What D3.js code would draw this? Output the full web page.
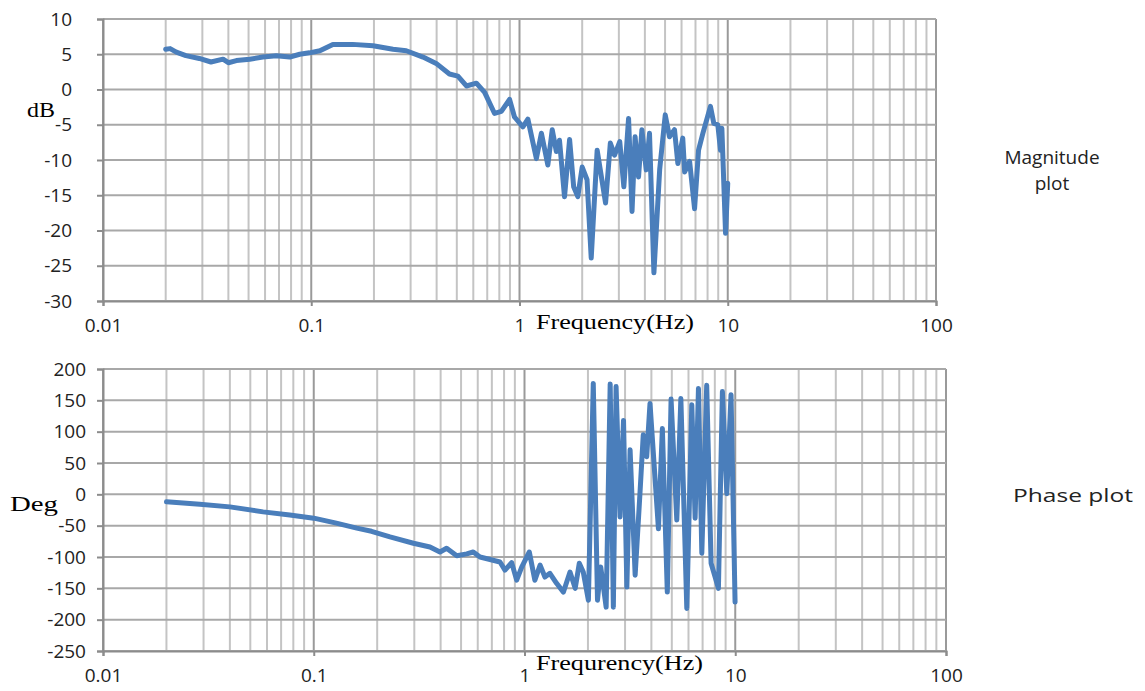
<!DOCTYPE html>
<html>
<head>
<meta charset="utf-8">
<script src="https://d3js.org/d3.v7.min.js"></script>
<style>
  body { margin: 0; background: #fff; }
</style>
</head>
<body>
<svg id="chart" width="1145" height="691"></svg>
<script>
// magnitude plot (Hz, dB)
var magFreq = [0.020, 0.021, 0.0225, 0.025, 0.029, 0.033, 0.0377, 0.040, 0.0437, 0.0506,
  0.0586, 0.068, 0.0788, 0.088, 0.098, 0.110, 0.127, 0.158, 0.198, 0.247,
  0.286, 0.344, 0.398, 0.461, 0.506, 0.556, 0.621, 0.680, 0.759, 0.818,
  0.896, 0.946, 1.038, 1.097, 1.205, 1.274, 1.368, 1.436, 1.503, 1.556,
  1.645, 1.74, 1.82, 1.905, 2.00, 2.11, 2.21, 2.36, 2.59, 2.73,
  2.86, 3.03, 3.17, 3.34, 3.47, 3.59, 3.73, 3.87, 4.06, 4.21,
  4.42, 4.71, 5.01, 5.25, 5.55, 5.76, 6.08, 6.21, 6.56, 6.93,
  7.24, 7.60, 8.26, 8.57, 8.96, 9.23, 9.37, 9.76, 10.0];
var magDb = [5.7, 5.8, 5.3, 4.8, 4.4, 3.9, 4.3, 3.8, 4.1, 4.3,
  4.6, 4.8, 4.6, 5.0, 5.2, 5.5, 6.4, 6.4, 6.2, 5.7,
  5.5, 4.6, 3.7, 2.2, 1.9, 0.5, 0.9, -0.4, -3.4, -3.1,
  -1.4, -3.9, -5.3, -4.2, -9.8, -6.2, -10.7, -5.7, -8.8, -7.2,
  -15.2, -7.1, -13.8, -15.2, -11.0, -12.8, -23.9, -8.6, -16.1, -7.6,
  -9.3, -7.4, -13.8, -4.1, -17.3, -6.7, -12.4, -5.7, -11.4, -6.2,
  -26.0, -11.4, -3.6, -6.7, -5.7, -10.5, -6.9, -11.7, -10.2, -16.9,
  -8.6, -6.2, -2.4, -4.8, -5.0, -8.6, -5.5, -20.4, -13.3];

// phase plot (Hz, degrees)
var phaseFreq = [0.020, 0.0288, 0.040, 0.0575, 0.077, 0.100, 0.128, 0.160, 0.188, 0.230,
  0.297, 0.356, 0.397, 0.427, 0.477, 0.532, 0.571, 0.615, 0.686, 0.765,
  0.808, 0.869, 0.918, 0.970, 1.054, 1.12, 1.186, 1.25, 1.32, 1.42,
  1.53, 1.644, 1.74, 1.82, 1.90, 2.01, 2.12, 2.22, 2.30, 2.44,
  2.55, 2.64, 2.72, 2.84, 2.95, 3.06, 3.17, 3.35, 3.53, 3.66,
  3.80, 3.94, 4.32, 4.51, 4.76, 4.96, 5.28, 5.52, 5.89, 6.22,
  6.45, 6.69, 6.94, 7.32, 7.68, 8.32, 8.69, 9.12, 9.55, 9.98];
var phaseDeg = [-12, -16, -20, -28, -33, -38, -46, -54, -59, -68,
  -78, -84, -92, -86, -98, -95, -92, -100, -104, -108,
  -121, -109, -137, -116, -92, -137, -113, -132, -126, -142,
  -156, -124, -150, -110, -124, -169, 177, -169, -116, -180,
  176, -180, 172, -36, 118, -148, 71, -129, 1, 95,
  60, 145, -55, 105, -156, 152, -41, 153, -182, 143,
  -38, 169, -94, 174, -110, -150, 164, 1, 159, -172];

var xTicks = [0.01, 0.1, 1, 10, 100];
var xTickLabels = ["0.01", "0.1", "1", "10", "100"];
var magTicks = [10, 5, 0, -5, -10, -15, -20, -25, -30];
var phaseTicks = [200, 150, 100, 50, 0, -50, -100, -150, -200, -250];

var svg = d3.select("#chart");
svg.append("rect").attr("width", 1145).attr("height", 691).attr("fill", "#fff");

var lineColor = "#4a7ebb";

// every 1..9 x decade for the log grid
var minorF = [];
for (var k = -2; k <= 1; k++) {
  for (var m = 1; m <= 9; m++) minorF.push(m * Math.pow(10, k));
}
minorF.push(100);

function panel(opt) {
  var x = d3.scaleLog().domain([0.01, 100]).range([opt.left, opt.right]);
  var y = d3.scaleLinear().domain(opt.domain).range([opt.bottom, opt.top]);
  var g = svg.append("g");

  // vertical grid
  g.selectAll(".vg").data(minorF).enter().append("line")
    .attr("x1", d => x(d)).attr("x2", d => x(d))
    .attr("y1", opt.top).attr("y2", opt.bottom)
    .attr("stroke", d => xTicks.indexOf(d) >= 0 ? "#9a9a9a" : "#c4c4c4")
    .attr("stroke-width", 2);

  // horizontal grid
  g.selectAll(".hg").data(opt.ticks).enter().append("line")
    .attr("x1", opt.left).attr("x2", opt.right)
    .attr("y1", d => y(d)).attr("y2", d => y(d))
    .attr("stroke", "#a8a8a8").attr("stroke-width", 2);

  // axes
  var xAxis = d3.axisBottom(x).tickValues(xTicks)
    .tickFormat((d, i) => xTickLabels[i]).tickSize(5).tickPadding(13);
  var xa = g.append("g").attr("transform", "translate(0," + opt.bottom + ")").call(xAxis);
  var yAxis = d3.axisLeft(y).tickValues(opt.ticks).tickSize(6).tickPadding(opt.ypad)
    .tickFormat(d => String(d));
  var ya = g.append("g").attr("transform", "translate(" + opt.left + ",0)").call(yAxis);
  [xa, ya].forEach(function (a) {
    a.select(".domain").attr("stroke", "#8c8c8c").attr("stroke-width", 2);
    a.selectAll(".tick line").attr("stroke", "#8c8c8c").attr("stroke-width", 2);
    a.selectAll("text").attr("fill", "#222").style("font-family", "'Open Sans', sans-serif")
      .style("font-size", "19px");
  });

  // data line
  var pts = opt.freq.map((f, i) => [f, opt.vals[i]]);
  g.append("path").datum(pts)
    .attr("fill", "none").attr("stroke", lineColor).attr("stroke-width", 5)
    .attr("stroke-linejoin", "round").attr("stroke-linecap", "round")
    .attr("d", d3.line().x(d => x(d[0])).y(d => y(d[1])));

  // labels
  g.append("text").attr("x", opt.yLabX).attr("y", opt.yLabY)
    .attr("textLength", opt.yLabW).attr("lengthAdjust", "spacingAndGlyphs")
    .style("font-family", "'Liberation Serif', serif").style("font-size", "20px")
    .text(opt.yLabel);
  g.append("text").attr("x", 536).attr("y", opt.xLabY)
    .attr("textLength", opt.xLabW).attr("lengthAdjust", "spacingAndGlyphs")
    .style("font-family", "'Liberation Serif', serif").style("font-size", "21px")
    .text(opt.xLabel);
}

panel({
  left: 103, right: 936, top: 19, bottom: 301, domain: [-30, 10], ticks: magTicks,
  freq: magFreq, vals: magDb, ypad: 25,
  yLabel: "dB", yLabX: 27, yLabY: 117, yLabW: 28,
  xLabel: "Frequency(Hz)", xLabY: 329, xLabW: 158
});
panel({
  left: 103, right: 946, top: 369, bottom: 651, domain: [-250, 200], ticks: phaseTicks,
  freq: phaseFreq, vals: phaseDeg, ypad: 11,
  yLabel: "Deg", yLabX: 10, yLabY: 511, yLabW: 48,
  xLabel: "Frequrency(Hz)", xLabY: 670, xLabW: 167
});

// side captions
var cap = svg.append("g").style("font-family", "'Open Sans', sans-serif")
  .style("font-size", "19px").attr("fill", "#222");
cap.append("text").attr("x", 1052).attr("y", 164).attr("text-anchor", "middle").text("Magnitude");
cap.append("text").attr("x", 1052).attr("y", 190).attr("text-anchor", "middle").text("plot");
cap.append("text").attr("x", 1013).attr("y", 502)
  .attr("textLength", 120).attr("lengthAdjust", "spacingAndGlyphs").text("Phase plot");
</script>
</body>
</html>
